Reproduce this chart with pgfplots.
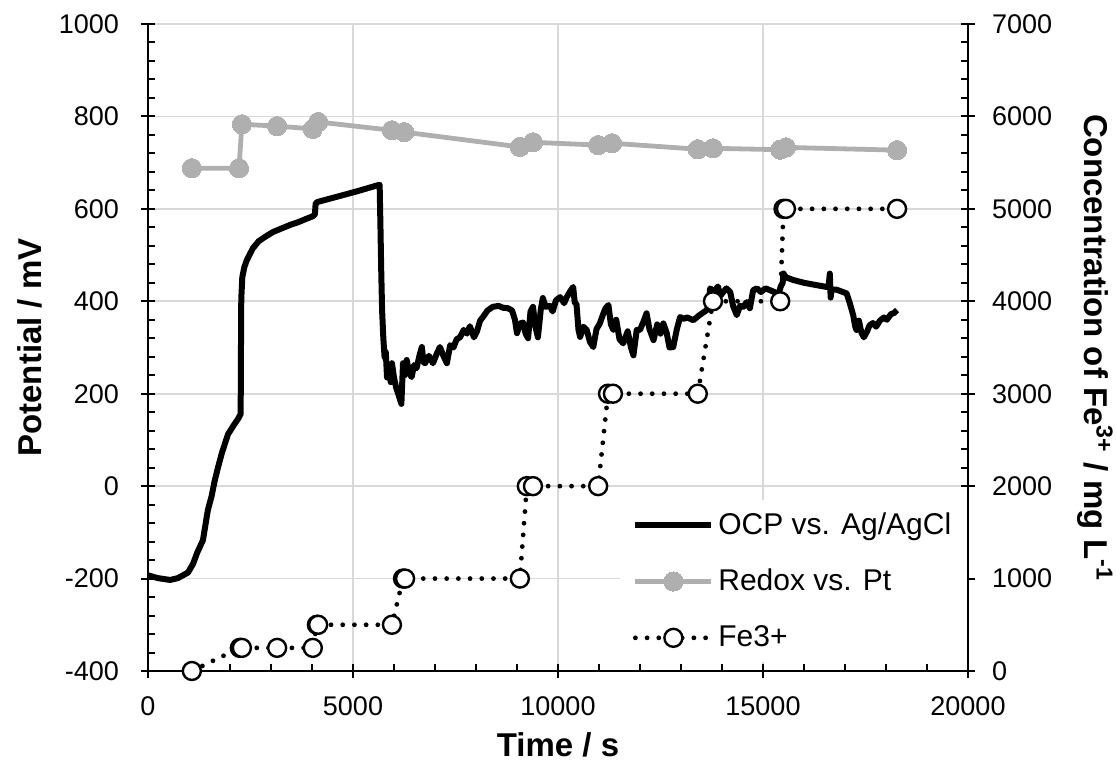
\documentclass[border=0pt]{standalone}
\usepackage{fontspec}
\setmainfont{Liberation Sans}
\usepackage{pgfplots}
\pgfplotsset{compat=1.18}
\definecolor{redoxgray}{RGB}{175,175,175}
\definecolor{gridgray}{RGB}{217,217,217}
\begin{document}
\begin{tikzpicture}
\useasboundingbox (-74pt,-50pt) rectangle (484pt,335.5pt);
\pgfplotsset{
  every axis/.append style={
    scale only axis, width=410pt, height=323.5pt,
    xmin=0, xmax=20000,
    tick label style={font=\fontsize{13.5}{16}\selectfont},
    /pgf/number format/assume math mode=true,
    /pgf/number format/1000 sep={},
    scaled ticks=false,
    axis line style={line width=1pt,-},
    tick align=center,
    major tick length=7pt, minor tick length=3.5pt,
    every tick/.style={black, line width=1pt},
  },
  ocpstyle/.style={black, line width=3pt, line join=round},
  redoxstyle/.style={redoxgray, line width=2.4pt, mark=*, mark size=4.8pt, mark options={fill=redoxgray, draw=redoxgray, line width=0pt}},
  festyle/.style={black, line width=2.4pt, line cap=round, dash pattern=on 0pt off 5.85pt, mark=*, mark size=4.5pt, mark options={solid, fill=white, draw=black, line width=1.2pt}},
}
\begin{axis}[
  axis x line*=bottom, axis y line*=left,
  ymin=-400, ymax=1000, ytick={-400,-200,...,1000},
  xtick={0,5000,...,20000},
  minor x tick num=4, minor y tick num=4,
  minor x tick style={yshift=1.75pt},
  minor y tick style={xshift=1.75pt},
  xticklabel style={yshift=-6pt},
  yticklabel style={xshift=-7.5pt},
  grid=major, major grid style={gridgray, line width=0.9pt},
  every axis x label/.style={at={(axis description cs:0.5,-0.1144)}, anchor=center, font=\fontsize{16.5}{19}\selectfont\bfseries},
  every axis y label/.style={at={(axis description cs:-0.1439,0.5)}, anchor=center, rotate=90, font=\fontsize{16.5}{19}\selectfont\bfseries},
  xlabel={Time / s}, ylabel={Potential / mV},
]
\addplot[ocpstyle] coordinates {
(0,-193)(240,-199)(540,-203)(730,-199)(975,-187)(1100,-168)(1195,-145)(1340,-117)(1460,-52)(1550,-22)(1630,13)(1700,38)(1800,71)(1950,112)(2100,133)(2200,146)(2260,156)(2268,300)(2275,405)(2300,452)(2350,474)(2410,489)(2560,515)(2700,530)(2850,539)(3050,550)(3270,558)(3460,565)(3660,571)(3850,578)(4020,584)(4070,588)(4090,612)(4140,615)(4600,626)(5100,638)(5600,651)(5650,652)(5670,560)(5690,460)(5710,380)(5740,320)(5770,279)(5800,290)(5830,235)(5870,260)(5920,225)(5950,266)(6000,235)(6050,214)(6120,195)(6180,178)(6220,266)(6260,240)(6310,273)(6370,245)(6430,236)(6490,262)(6550,255)(6620,282)(6680,301)(6720,268)(6760,266)(6850,282)(6950,266)(7050,288)(7120,301)(7200,283)(7290,266)(7370,305)(7450,300)(7530,318)(7610,322)(7700,338)(7780,330)(7850,346)(7950,322)(8020,334)(8100,358)(8170,366)(8280,380)(8410,388)(8550,390)(8660,386)(8780,385)(8880,380)(8950,360)(9000,331)(9080,352)(9150,354)(9210,330)(9270,320)(9330,378)(9390,388)(9450,345)(9510,322)(9580,382)(9630,407)(9700,388)(9800,390)(9870,378)(9950,402)(10050,409)(10150,396)(10220,410)(10300,422)(10370,431)(10410,396)(10450,395)(10500,338)(10540,323)(10620,345)(10700,338)(10780,312)(10860,301)(10940,340)(11020,352)(11100,372)(11160,385)(11230,392)(11290,350)(11350,338)(11420,360)(11500,318)(11590,309)(11700,335)(11780,300)(11840,283)(11920,338)(12000,338)(12080,355)(12160,374)(12230,340)(12330,316)(12420,350)(12500,330)(12570,352)(12650,332)(12720,300)(12810,301)(12900,340)(12980,366)(13060,362)(13150,365)(13300,359)(13450,370)(13630,381)(13680,395)(13710,428)(13800,420)(13900,432)(13960,412)(14030,420)(14110,428)(14200,420)(14270,390)(14360,370)(14440,390)(14520,388)(14600,398)(14680,385)(14760,424)(14850,428)(14950,420)(15060,428)(15170,424)(15280,420)(15360,410)(15430,431)(15480,440)(15500,460)(15560,452)(15740,446)(16000,440)(16300,435)(16550,431)(16600,432)(16630,460)(16650,408)(16670,425)(16800,425)(16950,420)(17040,417)(17120,395)(17200,370)(17250,345)(17280,338)(17340,358)(17400,332)(17460,322)(17540,335)(17600,348)(17680,353)(17760,345)(17850,358)(17950,365)(18020,360)(18120,372)(18200,375)(18270,381)
};
\addplot[redoxstyle] coordinates {
(1070,688)(2220,688)(2290,783)(3150,779)(4020,773)(4150,788)(5950,770)(6250,766)(9070,734)(9390,744)(10980,738)(11320,742)(13410,729)(13780,731)(15420,728)(15560,733)(18270,727)
};
\end{axis}
\begin{axis}[
  axis x line=none, axis y line*=right,
  ymin=0, ymax=7000, ytick={0,1000,...,7000},
  minor y tick num=4,
  minor y tick style={xshift=-1.75pt},
  yticklabel style={xshift=5pt},
  clip=false,
  every axis y label/.style={at={(axis description cs:1.1549,0.5)}, anchor=center, rotate=-90, font=\fontsize{16.5}{19}\selectfont\bfseries},
  ylabel={Concentration of Fe\textsuperscript{3+} / mg L\textsuperscript{-1}},
  legend image code/.code={\draw[mark repeat=2,mark phase=2] plot coordinates {(0pt,0pt)(19pt,0pt)(38pt,0pt)};},
  legend cell align=left,
  legend style={at={(axis description cs:0.5756,0.2643)}, anchor=north west, draw=none, fill=white, font=\fontsize{15}{18}\selectfont, row sep=12pt, inner xsep=6pt, inner ysep=4pt},
]
\addlegendimage{ocpstyle}
\addlegendentry{OCP vs. Ag/AgCl}
\addlegendimage{redoxstyle}
\addlegendentry{Redox vs. Pt}
\addplot[festyle] coordinates {
(1070,0)(2240,250)(2290,250)(3150,250)(4020,250)(4120,500)(4150,500)(5950,500)(6220,1000)(6270,1000)(9070,1000)(9240,2000)(9390,2000)(10980,2000)(11220,3000)(11340,3000)(13410,3000)(13780,4000)(15420,4000)(15500,5000)(15560,5000)(18270,5000)
};
\addlegendentry{Fe3+}
\end{axis}
\end{tikzpicture}
\end{document}
